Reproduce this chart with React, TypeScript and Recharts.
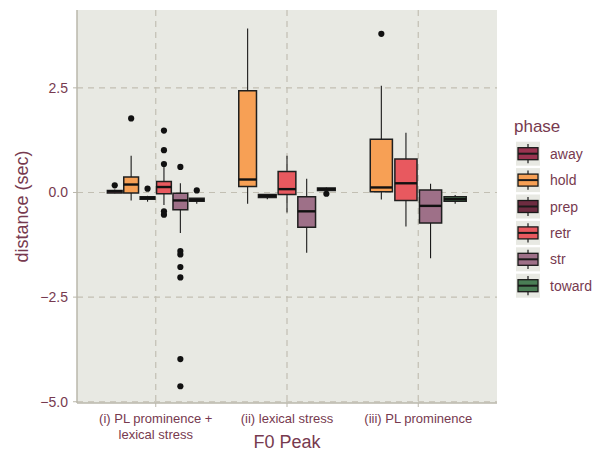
import React from 'react';
import {
  ComposedChart,
  XAxis,
  YAxis,
  CartesianGrid,
  ReferenceArea,
  ReferenceLine,
  Scatter,
  Legend,
} from 'recharts';

// ---------- data ----------
const categories = ['(i) PL prominence +\nlexical stress', '(ii) lexical stress', '(iii) PL prominence'];
const phases = ['away', 'hold', 'prep', 'retr', 'str', 'toward'];
const phaseColors = ['#9A3350', '#F7A055', '#6E2C41', '#E8595F', '#9E7088', '#4A7E55'];
const yTicks = [-5, -2.5, 0, 2.5];

// one entry per box
const boxCategory = [0, 0, 0, 0, 0, 0, 1, 1, 1, 1, 1, 2, 2, 2, 2];
const boxPhase = ['away', 'hold', 'prep', 'retr', 'str', 'toward', 'hold', 'prep', 'retr', 'str', 'toward', 'hold', 'retr', 'str', 'toward'];
const whiskerLow = [-0.02, -0.19, -0.22, -0.30, -0.97, -0.27, -0.27, -0.16, -0.48, -1.44, 0.04, -0.17, -0.81, -1.57, -0.27];
const lowerQuartile = [-0.01, -0.01, -0.16, -0.03, -0.41, -0.21, 0.14, -0.12, -0.05, -0.83, 0.05, 0.02, -0.19, -0.73, -0.21];
const medians = [0.03, 0.19, -0.13, 0.13, -0.19, -0.18, 0.31, -0.08, 0.08, -0.45, 0.08, 0.12, 0.22, -0.32, -0.16];
const upperQuartile = [0.05, 0.37, -0.10, 0.26, -0.02, -0.14, 2.43, -0.05, 0.50, -0.10, 0.11, 1.27, 0.80, 0.06, -0.10];
const whiskerHigh = [0.07, 0.88, -0.08, 0.62, 0.22, -0.13, 3.92, -0.04, 0.88, 0.33, 0.12, 2.55, 1.43, 0.21, -0.06];
const outlierValues = [
  [0.17],
  [1.77],
  [0.09],
  [1.48, 1.01, 0.68, -0.45, -0.53],
  [0.61, -1.4, -1.48, -1.78, -2.03, -3.98, -4.63],
  [0.05],
  [],
  [],
  [],
  [],
  [-0.03],
  [3.79],
  [],
  [],
  [],
];

// ---------- styling ----------
const FONT = '"Liberation Sans", Arial, Helvetica, sans-serif';
const TEXT = '#773A4F';
const PANEL = '#E8E9E3';
const GRID = '#C2BFB3';
const AXIS = '#BAB7AB';
const GROUP_WIDTH = 0.75;
const BOX_FRACTION = 0.9;

// dodge layout for each box
const counts = categories.map((_, c) => boxCategory.filter((b) => b === c).length);
const boxes = boxCategory.map((c, i) => {
  const n = counts[c];
  const j = boxCategory.slice(0, i).filter((b) => b === c).length;
  const slot = GROUP_WIDTH / n;
  const x = c + 1 + (j - (n - 1) / 2) * slot;
  const half = (slot * BOX_FRACTION) / 2;
  return {
    x,
    x1: x - half,
    x2: x + half,
    color: phaseColors[phases.indexOf(boxPhase[i])],
    lo: whiskerLow[i],
    q1: lowerQuartile[i],
    med: medians[i],
    q3: upperQuartile[i],
    hi: whiskerHigh[i],
  };
});
const outlierPoints = boxes.flatMap((b, i) => outlierValues[i].map((v) => ({ x: b.x, y: v })));

const fmt = (v: number) => (v < 0 ? '\u2212' : '') + Math.abs(v).toFixed(1);

const XTick = (props: any) => {
  const { x, y, payload } = props;
  const lines = categories[Math.round(payload.value) - 1].split('\n');
  return (
    <text x={x} y={y} textAnchor="middle" fill={TEXT} fontSize={13} fontFamily={FONT}>
      {lines.map((l, i) => (
        <tspan key={i} x={x} dy={i === 0 ? 14 : 16}>
          {l}
        </tspan>
      ))}
    </text>
  );
};

const YTitle = (props: any) => {
  const vb = props.viewBox || { x: 0, y: 10, width: 77, height: 393 };
  const cx = vb.x + 28;
  const cy = vb.y + vb.height / 2;
  return (
    <text x={cx} y={cy} transform={`rotate(-90, ${cx}, ${cy})`} textAnchor="middle" fill={TEXT} fontSize={18} fontFamily={FONT}>
      distance (sec)
    </text>
  );
};

const XTitle = (props: any) => {
  const vb = props.viewBox || { x: 77, y: 403, width: 420, height: 48 };
  return (
    <text x={vb.x + vb.width / 2} y={vb.y + 44.5} textAnchor="middle" fill={TEXT} fontSize={18} fontFamily={FONT}>
      F0 Peak
    </text>
  );
};

const LegendContent = () => (
  <svg width={92} height={190} style={{ display: 'block' }}>
    <text x={2} y={19.7} fontSize={17} fill={TEXT} fontFamily={FONT}>
      phase
    </text>
    {phases.map((p, i) => {
      const top = 29.7 + i * 26.4;
      return (
        <g key={p}>
          <rect x={4} y={top} width={24} height={24} fill={PANEL} />
          <line x1={16} x2={16} y1={top + 2.4} y2={top + 6} stroke="#1a1a1a" strokeWidth={1.2} />
          <line x1={16} x2={16} y1={top + 18} y2={top + 21.6} stroke="#1a1a1a" strokeWidth={1.2} />
          <rect x={6} y={top + 6} width={20} height={12} fill={phaseColors[i]} stroke="#1a1a1a" strokeWidth={1.3} />
          <line x1={6} x2={26} y1={top + 12} y2={top + 12} stroke="#1a1a1a" strokeWidth={2} />
          <text x={38} y={top + 17} fontSize={14} fill={TEXT} fontFamily={FONT}>
            {p}
          </text>
        </g>
      );
    })}
  </svg>
);

export default function App() {
  return (
    <div style={{ position: 'absolute', left: 0, top: 0, width: 604, height: 451, background: '#fff' }}>
      <ComposedChart width={604} height={451} margin={{ top: 10, right: 107, bottom: 0, left: 0 }}>
        <CartesianGrid
          fill={PANEL}
          fillOpacity={1}
          stroke={GRID}
          strokeDasharray="6 5"
          strokeWidth={1.2}
          horizontalValues={yTicks}
          verticalValues={[1, 2, 3]}
        />
        <XAxis
          type="number"
          dataKey="x"
          domain={[0.4, 3.6]}
          ticks={[1, 2, 3]}
          allowDataOverflow
          height={48}
          tickSize={4}
          tickMargin={2}
          stroke={AXIS}
          axisLine={{ stroke: AXIS, strokeWidth: 1.5 }}
          tickLine={{ stroke: AXIS }}
          tick={<XTick />}
          label={{ content: <XTitle /> }}
        />
        <YAxis
          type="number"
          dataKey="y"
          domain={[-5.03, 4.36]}
          ticks={yTicks}
          allowDataOverflow
          width={77}
          tickSize={4}
          tickMargin={5}
          tickFormatter={fmt}
          axisLine={{ stroke: AXIS, strokeWidth: 1.5 }}
          tickLine={{ stroke: AXIS }}
          tick={{ fill: TEXT, fontSize: 14, fontFamily: FONT }}
          label={{ content: <YTitle /> }}
        />
        {boxes.map((b, i) => (
          <ReferenceLine
            key={`wl${i}`}
            segment={[{ x: b.x, y: b.lo }, { x: b.x, y: b.q1 }]}
            stroke="#1a1a1a"
            strokeWidth={1.1}
            ifOverflow="visible"
          />
        ))}
        {boxes.map((b, i) => (
          <ReferenceLine
            key={`wh${i}`}
            segment={[{ x: b.x, y: b.q3 }, { x: b.x, y: b.hi }]}
            stroke="#1a1a1a"
            strokeWidth={1.1}
            ifOverflow="visible"
          />
        ))}
        {boxes.map((b, i) => (
          <ReferenceArea
            key={`box${i}`}
            x1={b.x1}
            x2={b.x2}
            y1={b.q1}
            y2={b.q3}
            fill={b.color}
            fillOpacity={1}
            stroke="#1f1f1f"
            strokeWidth={1.5}
            ifOverflow="visible"
          />
        ))}
        {boxes.map((b, i) => (
          <ReferenceLine
            key={`med${i}`}
            segment={[{ x: b.x1, y: b.med }, { x: b.x2, y: b.med }]}
            stroke="#111"
            strokeWidth={2.4}
            ifOverflow="visible"
          />
        ))}
        <Scatter
          data={outlierPoints}
          isAnimationActive={false}
          shape={(p: any) => <circle cx={p.cx} cy={p.cy} r={3.1} fill="#111" />}
        />
        <Legend
          layout="vertical"
          align="center"
          verticalAlign="middle"
          content={<LegendContent />}
          wrapperStyle={{ position: 'absolute', left: 512, top: 112, width: 92, height: 190 }}
        />
      </ComposedChart>
    </div>
  );
}
